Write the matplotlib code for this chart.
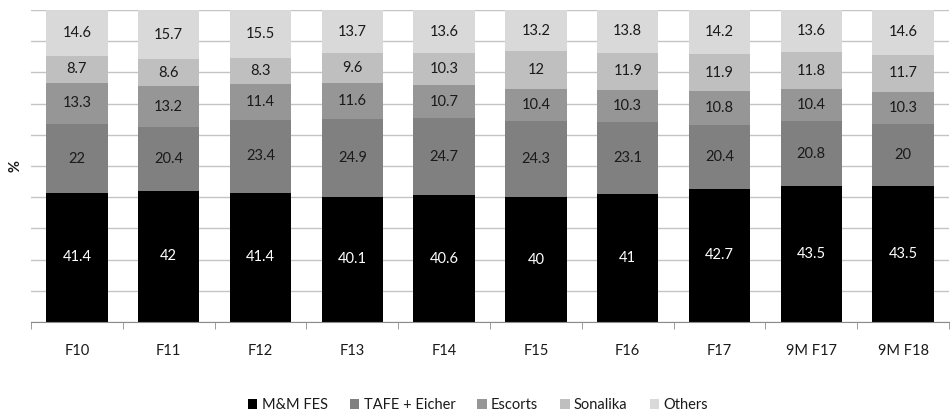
import matplotlib
matplotlib.use("Agg")
import matplotlib.pyplot as plt
import numpy as np

categories = ["F10", "F11", "F12", "F13", "F14", "F15", "F16", "F17", "9M F17", "9M F18"]
mm_fes = [41.4, 42, 41.4, 40.1, 40.6, 40, 41, 42.7, 43.5, 43.5]
tafe_eicher = [22, 20.4, 23.4, 24.9, 24.7, 24.3, 23.1, 20.4, 20.8, 20]
escorts = [13.3, 13.2, 11.4, 11.6, 10.7, 10.4, 10.3, 10.8, 10.4, 10.3]
sonalika = [8.7, 8.6, 8.3, 9.6, 10.3, 12, 11.9, 11.9, 11.8, 11.7]
others = [14.6, 15.7, 15.5, 13.7, 13.6, 13.2, 13.8, 14.2, 13.6, 14.6]

series = [
    ("M&M FES", mm_fes, "#000000", "white"),
    ("TAFE + Eicher", tafe_eicher, "#808080", "#1a1a1a"),
    ("Escorts", escorts, "#969696", "#1a1a1a"),
    ("Sonalika", sonalika, "#bfbfbf", "#1a1a1a"),
    ("Others", others, "#d9d9d9", "#1a1a1a"),
]

plt.rcParams["font.family"] = ["Lato", "DejaVu Sans"]
FS = 10.5

fig = plt.figure(figsize=(9.51, 4.16), dpi=100)
ax = fig.add_axes([31 / 951, 1 - 322 / 416, 918 / 951, 312 / 416])

x = np.arange(len(categories))
bottom = np.zeros(len(categories))
handles = []
for name, vals, color, tcolor in series:
    vals = np.array(vals, dtype=float)
    bars = ax.bar(x, vals, width=0.67, bottom=bottom, color=color, label=name, zorder=3)
    handles.append(bars)
    for xi, b, v in zip(x, bottom, vals):
        ax.text(xi, b + v / 2, f"{v:g}", ha="center", va="center",
                color=tcolor, fontsize=FS, zorder=4)
    bottom += vals

ax.set_xlim(-0.5, len(categories) - 0.5)
ax.set_ylim(0, 100)
ax.set_yticks(np.arange(0, 101, 10))
ax.set_yticklabels([])
ax.tick_params(axis="y", length=0)
ax.grid(axis="y", color="#c4c4c4", linewidth=1, zorder=0)

ax.set_xticks(x)
ax.set_xticklabels(categories, fontsize=FS, color="#1a1a1a")
ax.tick_params(axis="x", which="major", length=0, pad=16)
ax.set_xticks(np.arange(-0.5, len(categories), 1), minor=True)
ax.tick_params(axis="x", which="minor", length=5, color="#8c8c8c", direction="out")

for s in ["top", "right", "left"]:
    ax.spines[s].set_visible(False)
ax.spines["bottom"].set_color("#8c8c8c")
ax.spines["bottom"].set_zorder(5)

fig.text(16 / 951, 1 - 166 / 416, "%", rotation=90, ha="center", va="center",
         fontsize=FS, fontweight="bold", color="#1a1a1a")

fig.legend(handles=handles, labels=[s[0] for s in series], loc="center",
           bbox_to_anchor=(478 / 951, 1 - 405 / 416), ncol=5, frameon=False,
           fontsize=FS, handlelength=0.65, handleheight=0.65, handletextpad=0.3,
           columnspacing=1.5, labelcolor="#1a1a1a")

fig.savefig("out.png", dpi=100)
